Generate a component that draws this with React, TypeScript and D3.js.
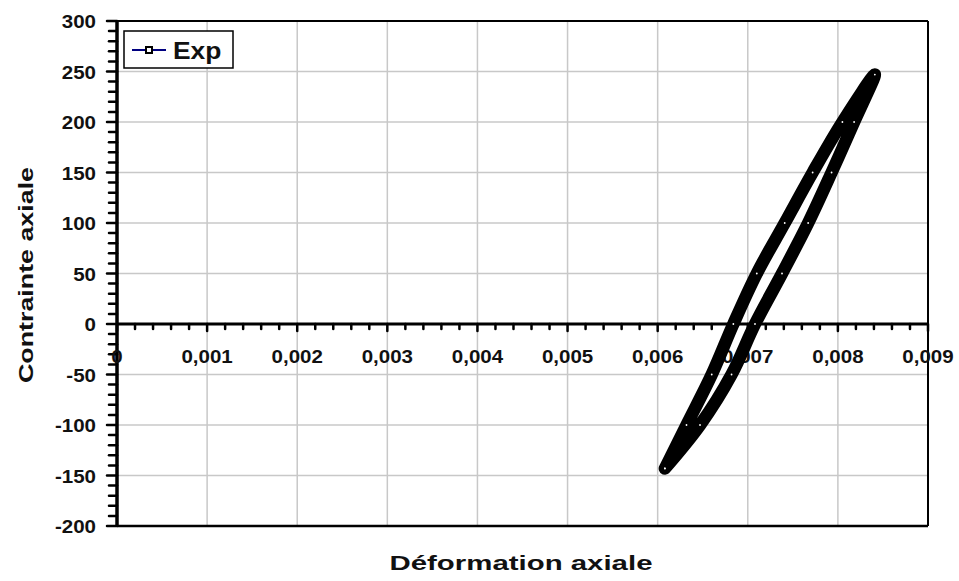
import React from "react";
import * as d3 from "d3";

const W = 959;
const H = 581;

// Loop: loading branch then unloading branch
const strain = [
  0.00608, 0.00632, 0.0066, 0.00684, 0.0071, 0.00741, 0.00772, 0.00805, 0.00841,
  0.00818, 0.00793, 0.00767, 0.00738, 0.00708, 0.00682, 0.00647, 0.00608,
];
const stress = [
  -143, -100, -50, 0, 50, 100, 150, 200, 247,
  200, 150, 100, 50, 0, -50, -100, -143,
];

const xTicks = [0, 0.001, 0.002, 0.003, 0.004, 0.005, 0.006, 0.007, 0.008, 0.009];
const xTickLabels = ["0", "0,001", "0,002", "0,003", "0,004", "0,005", "0,006", "0,007", "0,008", "0,009"];
const yTicks = [300, 250, 200, 150, 100, 50, 0, -50, -100, -150, -200];
const yTickLabels = ["300", "250", "200", "150", "100", "50", "0", "-50", "-100", "-150", "-200"];
const seriesName = "Exp";
const xTitle = "Déformation axiale";
const yTitle = "Contrainte axiale";

const L = 117, R = 928, T = 21, B = 526;

export default function App() {
  const x = d3.scaleLinear().domain([0, 0.009]).range([L, R]);
  const y = d3.scaleLinear().domain([-200, 300]).range([B, T]);

  const pts: [number, number][] = strain.map((s, i) => [x(s), y(stress[i])]);
  const line = d3.line().curve(d3.curveCatmullRom.alpha(0.5));
  const d = line(pts) || "";

  const yMinor = d3.range(-200, 301, 10);
  const xMinor = d3.range(0, 46).map((i) => i * 0.0002);

  const font = "'Liberation Sans', Arial, sans-serif";

  return (
    <svg width={W} height={H} style={{ position: "absolute", left: 0, top: 0, background: "#fff" }}>
      <rect x={0} y={0} width={W} height={H} fill="#fff" />
      {/* grid */}
      {xTicks.slice(1, -1).map((t) => (
        <line key={"gx" + t} x1={x(t)} x2={x(t)} y1={T} y2={B} stroke="#c8c8c8" strokeWidth={1.5} />
      ))}
      {yTicks.slice(1, -1).map((t) => (
        <line key={"gy" + t} x1={L} x2={R} y1={y(t)} y2={y(t)} stroke="#c8c8c8" strokeWidth={1.5} />
      ))}
      {/* frame */}
      <line x1={L} x2={R} y1={T} y2={T} stroke="#000" strokeWidth={2} />
      <line x1={R} x2={R} y1={T} y2={B} stroke="#000" strokeWidth={2} />
      <line x1={L} x2={R} y1={B} y2={B} stroke="#000" strokeWidth={2.5} />
      {/* y axis */}
      <line x1={L} x2={L} y1={T - 1} y2={B + 1} stroke="#000" strokeWidth={3.5} />
      {yMinor.map((t) => (
        <line key={"ym" + t} x1={L} x2={L - (t % 50 === 0 ? 10 : 8)} y1={y(t)} y2={y(t)}
          stroke="#000" strokeWidth={2.5} strokeLinecap="round" />
      ))}
      {/* x axis at zero */}
      <line x1={L} x2={R} y1={y(0)} y2={y(0)} stroke="#000" strokeWidth={3} />
      {xMinor.map((t, i) => (
        <line key={"xm" + i} x1={x(t)} x2={x(t)} y1={y(0)} y2={y(0) + (i % 5 === 0 ? 7 : 5)}
          stroke="#000" strokeWidth={2.5} strokeLinecap="round" />
      ))}
      {/* tick labels */}
      {yTicks.map((t, i) => (
        <text key={"yl" + t} transform={`translate(96,${y(t) + 7}) scale(1.08,1)`} textAnchor="end"
          fontFamily={font} fontWeight="bold" fontSize={19} fill="#111">
          {yTickLabels[i]}
        </text>
      ))}
      {xTicks.map((t, i) => (
        <text key={"xl" + t} transform={`translate(${x(t)},${y(0) + 39}) scale(1.08,1)`} textAnchor="middle"
          fontFamily={font} fontWeight="bold" fontSize={19} fill="#111">
          {xTickLabels[i]}
        </text>
      ))}
      {/* titles */}
      <text x={521} y={570} textAnchor="middle" fontFamily={font} fontWeight="bold" fontSize={21}
        textLength={263} lengthAdjust="spacingAndGlyphs" fill="#111">
        {xTitle}
      </text>
      <text transform="translate(33,275) rotate(-90)" textAnchor="middle" fontFamily={font} fontWeight="bold"
        fontSize={21} textLength={216} lengthAdjust="spacingAndGlyphs" fill="#111">
        {yTitle}
      </text>
      {/* data */}
      <path d={d} fill="none" stroke="#000" strokeWidth={12.5} strokeLinejoin="round" strokeLinecap="round" />
      {pts.map((p, i) => (
        <circle key={"pt" + i} cx={p[0]} cy={p[1]} r={0.9} fill="#fff" />
      ))}
      {/* legend */}
      <rect x={124} y={31} width={109} height={37} fill="#fff" stroke="#000" strokeWidth={1.5} />
      <line x1={132} x2={166} y1={50} y2={50} stroke="#000080" strokeWidth={2} />
      <rect x={146} y={47} width={6} height={6} fill="#fff" stroke="#000" strokeWidth={2} />
      <text transform="translate(173,59) scale(1.1,1)" fontFamily={font} fontWeight="bold" fontSize={24} fill="#111">
        {seriesName}
      </text>
    </svg>
  );
}
